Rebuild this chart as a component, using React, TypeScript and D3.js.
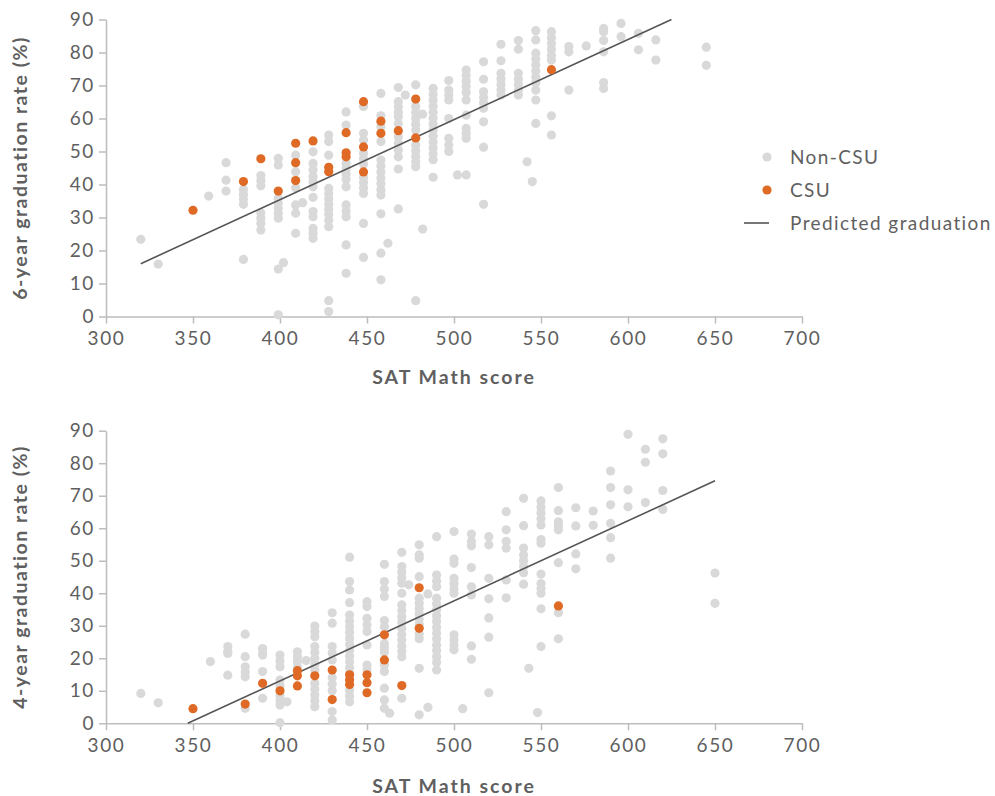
import { useEffect, useRef } from "react";
import * as d3 from "d3";

// tick values
const xTicks = [300, 350, 400, 450, 500, 550, 600, 650, 700];
const yTicks = [0, 10, 20, 30, 40, 50, 60, 70, 80, 90];

// 6-year graduation rate vs SAT Math score
const sixYearNonCsu: [number, number][] = [
  [320, 23.4], [330, 15.9], [359, 36.5],
  [369, 46.6], [369, 41.3], [369, 38],
  [379, 38.5], [379, 37], [379, 35.5], [379, 34], [379, 17.3],
  [389, 42.7], [389, 41.2], [389, 39.6], [389, 31.4], [389, 29.8], [389, 28.2], [389, 26.2],
  [399, 47.9], [399, 45.9], [399, 35.8], [399, 34.3], [399, 32.8], [399, 31.3], [399, 29.8], [399, 14.4], [399, 0.5],
  [402, 16.3],
  [409, 48.9], [409, 43.9], [409, 39], [409, 33.8], [409, 31.3], [409, 25.2],
  [413, 34.5],
  [419, 49.9], [419, 46.4], [419, 44.4], [419, 42.4], [419, 40.8], [419, 39.3], [419, 36.1], [419, 31.8], [419, 30.2], [419, 26.7], [419, 25.2], [419, 23.7],
  [428, 55], [428, 53], [428, 48.9], [428, 38.8], [428, 37.2], [428, 35.6], [428, 34], [428, 32.4], [428, 30.8], [428, 29.2], [428, 27.2], [428, 4.8], [428, 1.5],
  [438, 62], [438, 58], [438, 46.4], [438, 44.8], [438, 43.2], [438, 41.6], [438, 39.3], [438, 33.8], [438, 32], [438, 30.2], [438, 21.7], [438, 13.1],
  [448, 63.6], [448, 55.5], [448, 53.5], [448, 49.5], [448, 47.8], [448, 46.2], [448, 42.2], [448, 40.6], [448, 39], [448, 37.3], [448, 28.2], [448, 17.9],
  [458, 67.6], [458, 60.8], [458, 57.5], [458, 53], [458, 47.4], [458, 45.6], [458, 43.8], [458, 42], [458, 40.2], [458, 38.4], [458, 36.8], [458, 31.1], [458, 19.2], [458, 11.1],
  [462, 22.2],
  [468, 69.4], [468, 65.1], [468, 63.5], [468, 61.9], [468, 60.5], [468, 58.5], [468, 54.5], [468, 52.5], [468, 50.4], [468, 48.4], [468, 44.7], [468, 32.6],
  [472, 67.1],
  [478, 70.2], [478, 63.6], [478, 61.8], [478, 60], [478, 58.2], [478, 56.5], [478, 52], [478, 50.2], [478, 48.5], [478, 46.8], [478, 45.4], [478, 4.8],
  [482, 61.3], [482, 26.5],
  [488, 69.1], [488, 67.3], [488, 65.5], [488, 63.7], [488, 61.9], [488, 60.1], [488, 58.3], [488, 56.5], [488, 54.7], [488, 52.9], [488, 51.1], [488, 49.3], [488, 47.5], [488, 42.2],
  [497, 71.5], [497, 68.6], [497, 67.1], [497, 65.6], [497, 60], [497, 54], [497, 52], [497, 50],
  [502, 42.9],
  [507, 74.7], [507, 73], [507, 71.3], [507, 69.6], [507, 67.9], [507, 65.6], [507, 61], [507, 57], [507, 55.5], [507, 54], [507, 42.9],
  [517, 77.2], [517, 71.9], [517, 68.1], [517, 66.4], [517, 64.7], [517, 63.1], [517, 59], [517, 51.3], [517, 34],
  [527, 82.5], [527, 77.5], [527, 73.7], [527, 72], [527, 70.3], [527, 68.6], [527, 67.1],
  [537, 83.6], [537, 81], [537, 73.7], [537, 72], [537, 70.3], [537, 68.6], [537, 67.1],
  [542, 46.9], [545, 40.9],
  [547, 86.6], [547, 83.8], [547, 79.8], [547, 78], [547, 76.2], [547, 74.4], [547, 72.6], [547, 70.8], [547, 68.6], [547, 65.6], [547, 58.5],
  [556, 86.3], [556, 84.5], [556, 82.7], [556, 80.9], [556, 79.1], [556, 77.7], [556, 60.8], [556, 55],
  [566, 81.8], [566, 80.2], [566, 68.6],
  [576, 82],
  [586, 87.3], [586, 86.3], [586, 83.6], [586, 80.2], [586, 70.9], [586, 69.1],
  [596, 88.8], [596, 84.8],
  [606, 85.8], [606, 80.8],
  [616, 83.8], [616, 77.7],
  [645, 81.6], [645, 76.1],
];

const sixYearCsu: [number, number][] = [
  [350, 32.2], [379, 40.9], [389, 47.8], [399, 38],
  [409, 52.5], [409, 46.6], [409, 41.2], [419, 53.2],
  [428, 45.2], [428, 43.9], [438, 55.7], [438, 49.6], [438, 48.4],
  [448, 65.1], [448, 51.4], [448, 43.8], [458, 59.2], [458, 55.5],
  [468, 56.3], [478, 65.9], [478, 54.1], [556, 74.8],
];

const sixYearTrend: [number, number][] = [[320, 16], [625, 90]];

// 4-year graduation rate vs SAT Math score
const fourYearNonCsu: [number, number][] = [
  [320, 9.2], [330, 6.3], [360, 19],
  [370, 23.6], [370, 22], [370, 21.5], [370, 14.8],
  [380, 27.4], [380, 20.5], [380, 17.4], [380, 15.8], [380, 14.3], [380, 4.6],
  [390, 23], [390, 21.5], [390, 21], [390, 15.9], [390, 7.7],
  [400, 21], [400, 19.2], [400, 17.4], [400, 13.3], [400, 11.6], [400, 8.5], [400, 7], [400, 5.6], [400, 0.2],
  [404, 6.6],
  [410, 22], [410, 20.5], [410, 19], [410, 17.4],
  [415, 19.3],
  [420, 29.9], [420, 28.2], [420, 26.6], [420, 23.6], [420, 21.8], [420, 20], [420, 18.2], [420, 16.4], [420, 12.3], [420, 10.5], [420, 8.7], [420, 6.9], [420, 5.1],
  [430, 34], [430, 30.8], [430, 23.6], [430, 21.6], [430, 19.5], [430, 14], [430, 12], [430, 10], [430, 3.6], [430, 1],
  [440, 51.1], [440, 43.6], [440, 41], [440, 37.1], [440, 33.3], [440, 31.5], [440, 29.7], [440, 27.9], [440, 26.1], [440, 24.3], [440, 22.5], [440, 20.7], [440, 18.9], [440, 17.1], [440, 15.4], [440, 10.2], [440, 8.4], [440, 6.6],
  [450, 37.4], [450, 35.9], [450, 32.3], [450, 30.2], [450, 28.2], [450, 24.1], [450, 17.9], [450, 16.5],
  [460, 48.9], [460, 43.6], [460, 41.3], [460, 39], [460, 31.6], [460, 29.7], [460, 24.5], [460, 23.2], [460, 21.9], [460, 17.9], [460, 15.9], [460, 10.8], [460, 7.2], [460, 4.6],
  [463, 3.1],
  [470, 52.6], [470, 48.2], [470, 46.5], [470, 44.8], [470, 43.1], [470, 40], [470, 36.4], [470, 34.6], [470, 32.8], [470, 31], [470, 29.2], [470, 27.4], [470, 25.6], [470, 23.8], [470, 22.1], [470, 20.5], [470, 7.7],
  [474, 42.6],
  [480, 54.9], [480, 51.8], [480, 50.8], [480, 45.1], [480, 38.5], [480, 36.9], [480, 35.3], [480, 33.7], [480, 32.1], [480, 30.5], [480, 27.5], [480, 26], [480, 16.9], [480, 2.6],
  [485, 39.8], [485, 4.9],
  [490, 57.4], [490, 45.6], [490, 43.8], [490, 42], [490, 38.5], [490, 36.7], [490, 34.9], [490, 33.1], [490, 31.3], [490, 29.5], [490, 27.7], [490, 25.9], [490, 24.1], [490, 22.3], [490, 20.5], [490, 18.7], [490, 16.4],
  [500, 59], [500, 50.5], [500, 49.2], [500, 44.6], [500, 43], [500, 41.4], [500, 40], [500, 27.2], [500, 25.6], [500, 24.1], [500, 22.6],
  [505, 4.5],
  [510, 58.2], [510, 56], [510, 54.6], [510, 47.9], [510, 42], [510, 39.5], [510, 23.8], [510, 19.7],
  [520, 57.4], [520, 54.9], [520, 44.6], [520, 38.3], [520, 32.4], [520, 26.5], [520, 9.4],
  [530, 65.1], [530, 59.5], [530, 56], [530, 53.9], [530, 44.1], [530, 38.6],
  [540, 69.2], [540, 60.8], [540, 53.9], [540, 51.8], [540, 50], [540, 48.2], [540, 46.3], [540, 42.8],
  [543, 16.9], [548, 3.3],
  [550, 68.4], [550, 66.5], [550, 64.7], [550, 62.9], [550, 61], [550, 56.5], [550, 55.4], [550, 45.9], [550, 43], [550, 41.5], [550, 40], [550, 35.2], [550, 23.6],
  [560, 72.5], [560, 65.4], [560, 62], [560, 60.7], [560, 59.5], [560, 49.4], [560, 34], [560, 26],
  [570, 66.3], [570, 60.7], [570, 52.1], [570, 47.5],
  [580, 65.3], [580, 60.9],
  [590, 77.6], [590, 72.5], [590, 67.2], [590, 61.5], [590, 57.1], [590, 50.8],
  [600, 88.9], [600, 71.8], [600, 66.6],
  [610, 84.3], [610, 80.3], [610, 67.9],
  [620, 87.5], [620, 82.9], [620, 71.6], [620, 65.8],
  [650, 46.2], [650, 36.9],
];

const fourYearCsu: [number, number][] = [
  [350, 4.5], [380, 5.9], [390, 12.3], [400, 10],
  [410, 16.2], [410, 14.6], [410, 11.5], [420, 14.6],
  [430, 16.4], [430, 7.3], [440, 14.9], [440, 13.4], [440, 11.9],
  [450, 14.9], [450, 12.5], [450, 9.4], [460, 27.2], [460, 19.5],
  [470, 11.6], [480, 41.7], [480, 29.2], [560, 36.1],
];

const fourYearTrend: [number, number][] = [[347, 0], [650, 74.6]];

const legendItems = ["Non-CSU", "CSU", "Predicted graduation"];

const FONT = "Lato, 'Open Sans', sans-serif";
const GREY = "#d9d9d9";
const ORANGE = "#df6a26";
const INK = "#5f5f5f";
const AXIS = "#bdbdbd";

function drawPanel(svg, x, yRange, yTitle, nonCsu, csu, trend, titleY) {
  const y = d3.scaleLinear().domain([0, 90]).range(yRange);
  const g = svg.append("g");

  const xAxis = g.append("g")
    .attr("transform", `translate(0,${yRange[0]})`)
    .call(d3.axisBottom(x).tickValues(xTicks).tickSize(7).tickSizeOuter(0).tickPadding(8));
  const yAxis = g.append("g")
    .attr("transform", `translate(${x.range()[0]},0)`)
    .call(d3.axisLeft(y).tickValues(yTicks).tickSize(7).tickSizeOuter(0).tickPadding(4));

  [xAxis, yAxis].forEach((a) => {
    a.select(".domain").attr("stroke", AXIS).attr("stroke-width", 1.5);
    a.selectAll(".tick line").attr("stroke", AXIS).attr("stroke-width", 1.5);
    a.selectAll(".tick text")
      .attr("fill", INK)
      .style("font-family", FONT)
      .style("font-size", "19px")
      .style("letter-spacing", "1.6px");
  });

  g.append("text")
    .attr("x", (x.range()[0] + x.range()[1]) / 2)
    .attr("y", titleY)
    .attr("text-anchor", "middle")
    .attr("fill", INK)
    .style("font-family", FONT)
    .style("font-weight", 700)
    .style("font-size", "19.5px")
    .style("letter-spacing", "2px")
    .text("SAT Math score");

  g.append("text")
    .attr("transform", `translate(27,${(yRange[0] + yRange[1]) / 2}) rotate(-90)`)
    .attr("text-anchor", "middle")
    .attr("fill", INK)
    .style("font-family", FONT)
    .style("font-weight", 700)
    .style("font-size", "19.5px")
    .style("letter-spacing", "1.5px")
    .text(yTitle);

  g.append("g").selectAll("circle").data(nonCsu).join("circle")
    .attr("cx", (d) => x(d[0]))
    .attr("cy", (d) => y(d[1]))
    .attr("r", 4.6)
    .attr("fill", GREY);

  g.append("path")
    .datum(trend)
    .attr("fill", "none")
    .attr("stroke", "#555")
    .attr("stroke-width", 1.6)
    .attr("d", d3.line().x((d) => x(d[0])).y((d) => y(d[1])));

  g.append("g").selectAll("circle").data(csu).join("circle")
    .attr("cx", (d) => x(d[0]))
    .attr("cy", (d) => y(d[1]))
    .attr("r", 4.6)
    .attr("fill", ORANGE);
}

function createChart(node) {
  const svg = d3.select(node);
  svg.selectAll("*").remove();
  const x = d3.scaleLinear().domain([300, 700]).range([106, 802]);

  drawPanel(svg, x, [316.5, 19.5], "6-year graduation rate (%)", sixYearNonCsu, sixYearCsu, sixYearTrend, 384);
  drawPanel(svg, x, [723.3, 430.7], "4-year graduation rate (%)", fourYearNonCsu, fourYearCsu, fourYearTrend, 793);

  // legend
  const lg = svg.append("g").attr("transform", "translate(744,157)");
  const row = lg.selectAll("g").data(legendItems).join("g")
    .attr("transform", (d, i) => `translate(0,${i * 33})`);
  row.filter((d, i) => i < 2).append("circle")
    .attr("cx", 23).attr("r", 4.6)
    .attr("fill", (d, i) => (i === 0 ? GREY : ORANGE));
  row.filter((d, i) => i === 2).append("line")
    .attr("x1", 0).attr("x2", 25)
    .attr("stroke", "#555").attr("stroke-width", 1.6);
  row.append("text")
    .attr("x", 46)
    .attr("dy", "0.35em")
    .attr("fill", INK)
    .style("font-family", FONT)
    .style("font-size", "19px")
    .style("letter-spacing", "1.4px")
    .text((d) => d);
}

export default function App() {
  const ref = useRef(null);

  useEffect(() => {
    if (ref.current) createChart(ref.current);
  }, []);

  return (
    <svg
      ref={ref}
      width={995}
      height={796}
      style={{ position: "absolute", left: 0, top: 0, background: "#fff" }}
    />
  );
}
